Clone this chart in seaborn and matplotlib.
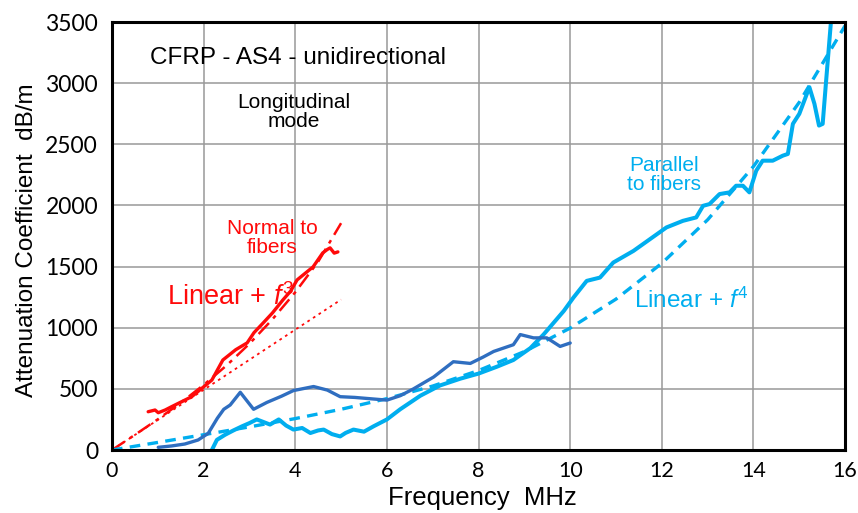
import matplotlib
matplotlib.use("Agg")
import matplotlib.pyplot as plt
import seaborn as sns

normal_f = [0.79, 0.94, 1.01, 1.16, 1.30, 1.52, 1.74, 1.96, 2.18, 2.42, 2.70, 2.95,
            3.10, 3.30, 3.50, 3.73, 3.90, 4.04, 4.20, 4.39, 4.60, 4.70, 4.76, 4.85, 4.93]
normal_att = [313, 327, 305, 327, 354, 395, 436, 504, 572, 736, 820, 876,
              960, 1039, 1120, 1227, 1300, 1391, 1440, 1498, 1612, 1640, 1653, 1610, 1620]

dark_f = [1.01, 1.30, 1.59, 1.88, 2.10, 2.30, 2.44, 2.58, 2.80, 2.95, 3.09, 3.38,
          3.70, 3.96, 4.40, 4.70, 4.98, 5.30, 5.71, 6.00, 6.29, 6.58, 7.02, 7.45,
          7.82, 8.10, 8.33, 8.76, 8.91, 9.20, 9.49, 9.78, 10.0]
dark_att = [22, 33, 49, 82, 136, 260, 333, 368, 472, 400, 333, 389,
            440, 486, 519, 490, 436, 430, 417, 408, 444, 500, 597, 722,
            708, 760, 806, 861, 944, 917, 917, 847, 875]

par_f = [2.18, 2.29, 2.47, 2.65, 2.84, 3.00, 3.16, 3.30, 3.45, 3.64, 3.80, 3.96,
         4.15, 4.33, 4.50, 4.62, 4.80, 4.98, 5.10, 5.27, 5.50, 5.71, 6.00, 6.29,
         6.73, 7.16, 7.60, 8.00, 8.40, 8.76, 9.13, 9.42, 9.86, 10.07, 10.36, 10.65,
         10.94, 11.38, 11.74, 12.10, 12.46, 12.75, 12.90, 13.04, 13.26, 13.48, 13.62,
         13.77, 13.91, 14.06, 14.20, 14.42, 14.64, 14.75, 14.86, 15.00, 15.11, 15.22,
         15.33, 15.43, 15.51, 15.58, 15.69]
par_att = [0, 83, 125, 160, 194, 220, 250, 230, 208, 250, 200, 167,
           180, 139, 160, 167, 130, 111, 140, 167, 150, 194, 250, 333,
           444, 528, 583, 625, 681, 736, 833, 945, 1137, 1246, 1383, 1410,
           1533, 1628, 1724, 1820, 1874, 1902, 1997, 2011, 2093, 2107, 2161,
           2161, 2107, 2284, 2366, 2366, 2407, 2421, 2667, 2749, 2858, 2967,
           2831, 2653, 2667, 2995, 3500]

# fitted curves
fit3_f = [0.0, 0.5, 1.0, 1.5, 2.0, 2.5, 3.0, 3.5, 4.0, 4.5, 5.0]
fit3_att = [0, 124, 251, 386, 532, 691, 869, 1068, 1290, 1540, 1855]
lin_f = [0.0, 5.0]
lin_att = [0, 1230]
fit4_f = [0, 1, 2, 3, 4, 5, 6, 7, 8, 9, 10, 11, 12, 13, 14, 15, 16]
fit4_att = [0, 62, 125, 189, 257, 333, 420, 523, 650, 805, 997, 1234,
            1527, 1883, 2319, 2844, 3470]

x_ticks = [0, 2, 4, 6, 8, 10, 12, 14, 16]
y_ticks = [0, 500, 1000, 1500, 2000, 2500, 3000, 3500]

RED = "#ff0a0a"
DARK = "#2f6ec0"
LIGHT = "#00aeef"

sns.set_style("whitegrid")
plt.rcParams["font.family"] = ["Liberation Sans", "DejaVu Sans"]
plt.rcParams["text.color"] = "black"
plt.rcParams["axes.labelcolor"] = "black"
plt.rcParams["xtick.color"] = "black"
plt.rcParams["ytick.color"] = "black"
plt.rcParams["mathtext.fontset"] = "custom"
plt.rcParams["mathtext.it"] = "Liberation Sans:italic"
plt.rcParams["mathtext.rm"] = "Liberation Sans"

fig = plt.figure(figsize=(8.58, 5.13), dpi=100)
ax = fig.add_axes([0.1305, 0.1228, 0.8545, 0.8343])

sns.lineplot(x=lin_f, y=lin_att, ax=ax, color=RED, lw=1.3, sort=False, estimator=None)
ax.lines[-1].set_dashes([1.5, 2.2])
sns.lineplot(x=fit3_f, y=fit3_att, ax=ax, color=RED, lw=1.8, sort=False, estimator=None)
ax.lines[-1].set_dashes([6, 2.5, 1.5, 2.5])
sns.lineplot(x=normal_f, y=normal_att, ax=ax, color=RED, lw=2.4, sort=False, estimator=None)
sns.lineplot(x=fit4_f, y=fit4_att, ax=ax, color=LIGHT, lw=2.4, sort=False, estimator=None)
ax.lines[-1].set_dashes([3.2, 2.2])
sns.lineplot(x=par_f, y=par_att, ax=ax, color=LIGHT, lw=2.9, sort=False, estimator=None)
sns.lineplot(x=dark_f, y=dark_att, ax=ax, color=DARK, lw=2.4, sort=False, estimator=None)

ax.set_xlim(0, 16)
ax.set_ylim(0, 3500)
ax.set_xticks(x_ticks)
ax.set_yticks(y_ticks)
ax.grid(True, color="#999999", lw=1.1)
for s in ax.spines.values():
    s.set_color("black")
    s.set_linewidth(2.2)
ax.tick_params(axis="y", length=0, pad=10)
ax.tick_params(axis="x", length=0, pad=8)
for lab in ax.get_yticklabels():
    lab.set_fontsize(16.5)
    lab.set_family(["Lato", "Liberation Sans"])
for lab in ax.get_xticklabels():
    lab.set_fontsize(15.5)
    lab.set_family(["Lato", "Liberation Sans"])

ax.set_xlabel("Frequency  MHz", fontsize=18.5)
ax.xaxis.set_label_coords(0.505, -0.112)
ax.xaxis.label.set_va("center")
ax.set_ylabel("Attenuation Coefficient  dB/m", fontsize=17.5)
ax.yaxis.set_label_coords(-0.116, 0.49)
ax.yaxis.label.set_va("center")

ax.text(4.06, 3205, "CFRP - AS4 - unidirectional", fontsize=17.5, ha="center", va="center")
ax.text(3.97, 2764, "Longitudinal\nmode", fontsize=15, ha="center", va="center", linespacing=1.05)
ax.text(3.49, 1734, "Normal to\nfibers", fontsize=15, color=RED, ha="center", va="center", linespacing=1.05)
ax.text(2.6, 1251, r"Linear + $f^3$", fontsize=19.5, color=RED, ha="center", va="center")
ax.text(12.05, 2249, "Parallel\nto fibers", fontsize=15, color=LIGHT, ha="center", va="center", linespacing=1.05)
ax.text(12.64, 1227, r"Linear + $f^4$", fontsize=17.5, color=LIGHT, ha="center", va="center")

fig.savefig("out.png", dpi=100)
